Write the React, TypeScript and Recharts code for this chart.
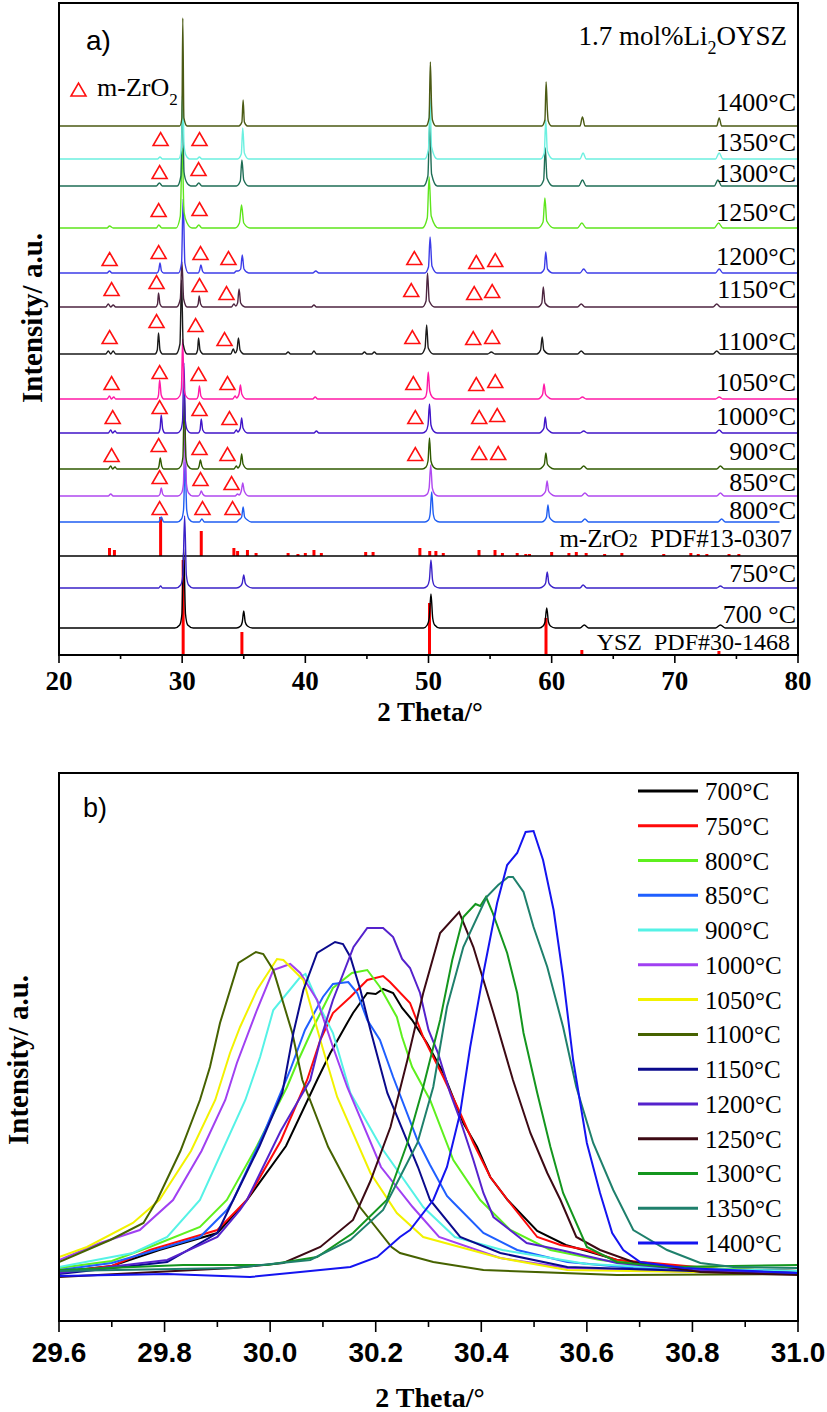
import React from 'react';
import { ComposedChart, Line, XAxis, YAxis, ReferenceLine, Scatter } from 'recharts';

type P = [number, number];

// ---------------- Panel a: XRD patterns (2θ, intensity above own baseline) ----------------
const xrdNames = ['700', '750', '800', '850', '900', '1000', '1050', '1100', '1150', '1200', '1250', '1300', '1350', '1400'];
const xrdLabels = ['700 °C', '750°C', '800°C', '850°C', '900°C', '1000°C', '1050°C', '1100°C', '1150°C', '1200°C', '1250°C', '1300°C', '1350°C', '1400°C'];
const xrdOffsets = [27, 67, 133, 159, 186, 222, 256, 301, 348, 382, 427, 469, 496, 529];
const xrdColors = ['#000000', '#3a22c8', '#1f5ef2', '#b048f0', '#2f5a00', '#4015c8', '#ff1aa6', '#1a1a1a', '#4d2540', '#3c3ce8', '#5ee51c', '#1f6e56', '#6cf0e0', '#4b5a14'];

const a700: P[] = [[20,0],[29.4,0],[29.8,3],[29.98,14],[30.12,79],[30.27,14],[30.45,3],[30.9,0],[34.4,0],[34.75,2],[34.88,6],[35.0,17],[35.12,6],[35.3,2],[35.7,0],[49.6,0],[49.9,3],[50.06,10],[50.2,34],[50.34,10],[50.5,3],[50.9,0],[59.0,0],[59.3,2],[59.46,6],[59.6,20],[59.74,6],[59.9,2],[60.3,0],[62.3,0],[62.65,3],[63.0,0],[73.3,0],[73.7,3],[74.1,0],[80,0]];
const a750: P[] = [[20,0],[28.1,0],[28.25,2],[28.4,0],[29.5,0],[29.88,3],[30.06,13],[30.2,72],[30.34,13],[30.52,3],[30.9,0],[34.4,0],[34.75,2],[34.88,5],[35.0,13],[35.12,5],[35.3,2],[35.7,0],[49.6,0],[49.9,2],[50.07,8],[50.2,28],[50.33,8],[50.5,2],[50.9,0],[59.0,0],[59.35,2],[59.51,5],[59.64,16],[59.77,5],[59.95,2],[60.3,0],[62.3,0],[62.55,3],[62.85,0],[73.4,0],[73.7,2],[74.0,0],[80,0]];
const a800: P[] = [[20,0],[28.1,0],[28.3,5],[28.5,0],[29.6,0],[29.95,3],[30.11,12],[30.24,60],[30.37,12],[30.55,3],[30.9,0],[31.4,0],[31.6,3],[31.8,0],[34.4,0],[34.6,2],[34.83,5],[34.95,15],[35.07,5],[35.3,2],[35.6,0],[49.7,0],[50.0,2],[50.13,8],[50.26,30],[50.39,8],[50.55,2],[50.9,0],[59.2,0],[59.45,2],[59.58,5],[59.7,17],[59.82,5],[60.0,2],[60.3,0],[62.4,0],[62.7,3],[63.0,0],[73.5,0],[73.8,3],[74.1,0],[78.5,0]];
const a850: P[] = [[20,0],[24.0,0],[24.2,2],[24.4,0],[28.05,0],[28.2,2],[28.3,8],[28.42,2],[28.6,0],[29.65,0],[29.95,3],[30.1,12],[30.22,70],[30.35,12],[30.52,3],[30.85,0],[31.3,0],[31.45,2],[31.55,5],[31.67,2],[31.9,0],[34.3,0],[34.5,2],[34.62,1],[34.8,5],[34.92,13],[35.04,5],[35.4,0],[49.6,0],[49.9,2],[50.05,8],[50.18,31],[50.31,8],[50.5,2],[50.8,0],[59.1,0],[59.35,2],[59.51,5],[59.63,15],[59.75,5],[59.95,2],[60.3,0],[62.4,0],[62.7,3],[63.0,0],[73.4,0],[73.7,3],[74.0,0],[80,0]];
const a900: P[] = [[20,0],[24.0,0],[24.2,3],[24.35,0],[24.55,2],[24.7,0],[28.0,0],[28.12,3],[28.22,11],[28.34,3],[28.5,0],[29.6,0],[29.9,3],[30.06,12],[30.18,75],[30.3,12],[30.48,3],[30.8,0],[31.25,0],[31.38,3],[31.48,9],[31.6,3],[31.8,0],[34.2,0],[34.4,3],[34.52,1],[34.72,5],[34.83,15],[34.94,5],[35.3,0],[49.5,0],[49.8,2],[49.96,8],[50.08,31],[50.2,8],[50.4,2],[50.7,0],[59.0,0],[59.25,2],[59.41,5],[59.53,16],[59.65,5],[59.85,2],[60.2,0],[62.3,0],[62.6,3],[62.9,0],[73.4,0],[73.7,3],[74.0,0],[80,0]];
const a1000: P[] = [[20,0],[24.0,0],[24.2,3],[24.35,0],[24.55,2],[24.7,0],[28.05,0],[28.2,4],[28.3,18],[28.42,4],[28.6,0],[29.6,0],[29.88,3],[30.03,12],[30.14,70],[30.26,12],[30.42,3],[30.7,0],[31.3,0],[31.45,3],[31.55,14],[31.67,3],[31.9,0],[34.2,0],[34.4,3],[34.52,1],[34.72,5],[34.83,15],[34.94,5],[35.3,0],[40.7,0],[40.9,2],[41.1,0],[49.5,0],[49.8,2],[49.96,8],[50.08,29],[50.2,8],[50.4,2],[50.7,0],[59.0,0],[59.22,2],[59.37,5],[59.48,16],[59.6,5],[59.8,2],[60.1,0],[62.3,0],[62.6,2],[62.9,0],[73.3,0],[73.6,3],[73.9,0],[80,0]];
const a1050: P[] = [[20,0],[23.9,0],[24.1,3],[24.25,0],[24.45,2],[24.6,0],[27.95,0],[28.08,4],[28.17,19],[28.3,4],[28.5,0],[29.5,0],[29.8,3],[29.94,11],[30.04,60],[30.15,11],[30.3,3],[30.6,0],[31.15,0],[31.3,3],[31.4,13],[31.52,3],[31.75,0],[34.1,0],[34.3,3],[34.42,1],[34.62,5],[34.73,14],[34.84,5],[35.2,0],[40.6,0],[40.8,2],[41.0,0],[49.5,0],[49.75,2],[49.87,8],[49.98,27],[50.1,8],[50.3,2],[50.6,0],[58.9,0],[59.13,2],[59.27,5],[59.38,15],[59.5,5],[59.7,2],[60,0],[62.2,0],[62.5,2],[62.8,0],[73.3,0],[73.6,2],[73.9,0],[80,0]];
const a1100: P[] = [[20,0],[23.8,0],[24.0,3],[24.2,0],[24.4,3],[24.6,0],[27.8,0],[27.98,4],[28.08,21],[28.2,4],[28.4,0],[29.5,0],[29.82,10],[29.95,74],[30.08,10],[30.4,0],[31.1,0],[31.25,4],[31.33,16],[31.45,4],[31.7,0],[33.95,0],[34.15,5],[34.3,1],[34.45,4],[34.57,16],[34.7,4],[35.0,0],[38.4,0],[38.6,2],[38.8,0],[40.5,0],[40.7,3],[40.9,0],[44.6,0],[44.8,2],[45.0,0],[45.4,0],[45.6,2],[45.8,0],[49.4,0],[49.72,6],[49.85,29],[49.98,6],[50.4,0],[54.8,0],[55.1,2],[55.4,0],[58.8,0],[59.1,4],[59.23,17],[59.36,4],[59.8,0],[62.1,0],[62.4,3],[62.7,0],[73.1,0],[73.4,3],[73.7,0],[80,0]];
const a1150: P[] = [[20,0],[23.8,0],[24.0,3],[24.2,0],[24.4,2],[24.6,0],[27.85,0],[28.0,3],[28.08,14],[28.2,3],[28.4,0],[29.55,0],[29.85,8],[29.98,45],[30.12,8],[30.4,0],[31.15,0],[31.3,3],[31.38,11],[31.5,3],[31.7,0],[34.0,0],[34.2,3],[34.35,1],[34.5,4],[34.62,18],[34.75,4],[35.1,0],[40.5,0],[40.7,2],[40.9,0],[49.5,0],[49.8,6],[49.92,34],[50.06,6],[50.5,0],[58.9,0],[59.2,4],[59.32,20],[59.46,4],[59.9,0],[62.1,0],[62.4,3],[62.7,0],[73.1,0],[73.4,3],[73.7,0],[80,0]];
const a1200: P[] = [[20,0],[23.9,0],[24.1,2],[24.3,0],[27.95,0],[28.1,3],[28.2,10],[28.32,2],[28.5,0],[29.7,0],[29.95,10],[30.08,74],[30.22,10],[30.5,0],[31.3,0],[31.42,3],[31.52,8],[31.65,2],[31.8,0],[34.2,0],[34.4,2],[34.55,2],[34.75,4],[34.88,18],[35.02,4],[35.4,0],[40.6,0],[40.85,2],[41.1,0],[49.7,0],[50.0,6],[50.13,36],[50.28,7],[50.7,0],[59.1,0],[59.4,4],[59.52,21],[59.66,4],[60.1,0],[62.3,0],[62.6,4],[62.9,0],[73.3,0],[73.6,4],[73.9,0],[80,0]];
const a1250: P[] = [[20,0],[23.9,0],[24.1,2],[24.4,0],[27.9,0],[28.1,3],[28.35,0],[29.5,0],[29.85,12],[30.0,80],[30.15,16],[30.4,5],[30.8,0],[31.1,0],[31.35,3],[31.6,0],[34.3,0],[34.65,5],[34.82,23],[35.0,5],[35.5,0],[49.5,0],[49.9,10],[50.05,51],[50.22,12],[50.8,0],[58.9,0],[59.3,6],[59.45,30],[59.6,7],[60.2,0],[62.1,0],[62.45,5],[62.8,0],[73.2,0],[73.55,5],[73.9,0],[80,0]];
const a1300: P[] = [[20,0],[27.9,0],[28.15,3],[28.4,0],[29.6,0],[29.9,10],[30.02,90],[30.15,14],[30.35,4],[30.7,0],[31.1,0],[31.35,3],[31.6,0],[34.4,0],[34.72,5],[34.85,26],[35.0,6],[35.4,0],[49.6,0],[49.95,10],[50.1,63],[50.25,12],[50.7,0],[59.0,0],[59.35,6],[59.48,38],[59.62,8],[60.1,0],[62.2,0],[62.5,6],[62.8,0],[73.2,0],[73.5,6],[73.8,0],[80,0]];
const a1350: P[] = [[20,0],[28.0,0],[28.2,2],[28.4,0],[29.7,0],[29.95,10],[30.05,75],[30.15,14],[30.3,4],[30.6,0],[31.2,0],[31.4,2],[31.6,0],[34.5,0],[34.8,5],[34.92,31],[35.05,6],[35.4,0],[49.7,0],[50.0,10],[50.12,62],[50.25,12],[50.7,0],[59.1,0],[59.4,6],[59.52,39],[59.65,8],[60.1,0],[62.3,0],[62.55,6],[62.8,0],[73.3,0],[73.6,6],[73.9,0],[80,0]];
const a1400: P[] = [[20,0],[29.8,0],[29.98,8],[30.05,108],[30.14,8],[30.4,0],[34.6,0],[34.85,4],[34.95,26],[35.05,4],[35.3,0],[49.8,0],[50.05,8],[50.15,64],[50.25,20],[50.32,6],[50.6,0],[59.2,0],[59.45,6],[59.55,44],[59.65,16],[59.72,5],[60,0],[62.3,0],[62.5,9],[62.7,0],[73.4,0],[73.6,8],[73.8,0],[80,0]];
const xrdPatterns = [a700, a750, a800, a850, a900, a1000, a1050, a1100, a1150, a1200, a1250, a1300, a1350, a1400];

// reference patterns (2θ, stick height)
const yszSticks: P[] = [[30.08,95],[34.85,23],[50.08,52],[59.54,37],[62.45,5],[73.58,4]];
const mZrO2Base = 99;
const mZrO2Sticks: P[] = [[24.1,8],[24.5,6],[28.25,39],[31.55,25],[34.2,8],[34.5,5],[35.3,6],[36.0,3],[38.6,3],[39.4,2],[40.0,3],[40.7,6],[41.3,3],[44.9,4],[45.5,4],[49.3,8],[50.1,5],[50.6,5],[51.2,3],[54.1,6],[55.4,6],[56.0,3],[57.2,3],[57.9,2],[58.2,2],[60.0,4],[61.4,3],[62.0,4],[62.8,3],[64.3,2],[65.7,3],[69.1,2],[71.3,3],[71.9,2],[72.6,2],[74.4,2],[75.2,2]];

// m-ZrO2 markers (2θ, level)
const triangles: P[] = [
  [28.25,516],[31.41,516],
  [28.17,483],[31.33,486],
  [28.09,445],[31.41,446],
  [24.11,396],[28.09,403],[31.49,402],[33.76,397],[48.85,397],[53.88,393],[55.42,395],
  [24.27,366],[27.92,373],[31.41,370],[33.6,362],[48.6,365],[53.71,362],[55.17,364],
  [24.11,318],[27.92,334],[31.09,330],[33.44,316],[48.69,318],[53.63,317],[55.17,318],
  [24.27,272],[28.17,283],[31.33,281],[33.68,272],[48.77,272],[53.88,271],[55.42,274],
  [24.36,238],[28.17,248],[31.41,246],[33.84,237],[48.93,238],[54.12,238],[55.58,240],
  [24.27,200],[28.09,210],[31.41,207],[33.68,201],[48.93,201],[54.12,202],[55.66,202],
  [28.17,178],[31.49,176],[34.01,172],
  [28.17,147],[31.65,147],[34.09,147],
];
const ticksA = [20, 25, 30, 35, 40, 45, 50, 55, 60, 65, 70, 75, 80];

// ---------------- Panel b: (111) peak region ----------------
const bNames = ['700°C', '750°C', '800°C', '850°C', '900°C', '1000°C', '1050°C', '1100°C', '1150°C', '1200°C', '1250°C', '1300°C', '1350°C', '1400°C'];
const bColors = ['#000000', '#ff0a0a', '#5ef01e', '#1f5fff', '#55f2e6', '#a040f2', '#f2f200', '#466200', '#0a0a8c', '#5522cc', '#3d0a14', '#14961e', '#1f806c', '#1414f0'];
const b700: P[] = [[29.6,49],[29.7,55],[29.79,71],[29.9,88],[29.956,121],[30.03,175],[30.089,241],[30.114,268],[30.146,298],[30.157,308],[30.184,328],[30.2,327],[30.214,332],[30.233,328],[30.25,313],[30.269,301],[30.297,278],[30.328,248],[30.366,198],[30.392,174],[30.417,144],[30.45,121],[30.506,90],[30.56,76],[30.6,70],[30.657,61],[30.75,55],[30.85,52],[31.0,50]];
const b750: P[] = [[29.6,49],[29.7,55],[29.772,71],[29.9,91],[29.956,121],[30.02,180],[30.07,241],[30.095,281],[30.119,308],[30.152,324],[30.184,341],[30.214,345],[30.227,339],[30.265,318],[30.29,284],[30.328,244],[30.36,208],[30.385,178],[30.417,144],[30.45,121],[30.506,84],[30.55,76],[30.6,71],[30.657,61],[30.726,58],[30.85,52],[31.0,50]];
const b800: P[] = [[29.6,53],[29.7,60],[29.772,74],[29.867,94],[29.918,121],[29.975,175],[30.032,234],[30.051,258],[30.082,294],[30.119,333],[30.155,348],[30.184,351],[30.208,334],[30.24,304],[30.25,284],[30.269,254],[30.303,221],[30.347,161],[30.398,121],[30.455,91],[30.531,71],[30.625,61],[30.752,54],[31.0,50]];
const b850: P[] = [[29.6,51],[29.7,58],[29.867,84],[29.918,111],[29.93,121],[29.99,190],[30.038,251],[30.066,291],[30.1,324],[30.119,337],[30.148,339],[30.165,328],[30.184,301],[30.208,281],[30.233,244],[30.279,181],[30.303,156],[30.335,125],[30.348,118],[30.404,88],[30.468,71],[30.563,59],[30.688,53],[31.0,50]];
const b900: P[] = [[29.6,54],[29.74,68],[29.805,84],[29.867,121],[29.953,221],[29.981,264],[30.006,311],[30.057,344],[30.067,347],[30.095,313],[30.119,288],[30.152,228],[30.21,174],[30.29,114],[30.35,84],[30.44,71],[30.6,57],[30.8,52],[31.0,50]];
const b1000: P[] = [[29.6,61],[29.678,78],[29.753,91],[29.816,121],[29.87,170],[29.915,221],[29.937,258],[29.975,311],[30.006,351],[30.038,357],[30.057,348],[30.089,321],[30.119,274],[30.146,234],[30.21,154],[30.27,114],[30.32,84],[30.436,63],[30.563,53],[30.8,49],[31.0,48]];
const b1050: P[] = [[29.6,64],[29.653,74],[29.74,98],[29.79,121],[29.85,170],[29.896,221],[29.924,268],[29.943,294],[29.975,331],[30.013,362],[30.025,361],[30.044,351],[30.063,341],[30.095,281],[30.127,224],[30.19,148],[30.24,108],[30.29,84],[30.436,63],[30.563,51],[30.8,49],[31.0,48]];
const b1100: P[] = [[29.6,59],[29.697,81],[29.76,98],[29.786,121],[29.83,170],[29.867,221],[29.886,254],[29.905,298],[29.94,358],[29.973,369],[29.987,367],[30.006,351],[30.042,288],[30.061,241],[30.11,174],[30.17,114],[30.23,74],[30.246,68],[30.309,59],[30.404,51],[30.657,46],[31.0,47]];
const b1150: P[] = [[29.6,47],[29.805,59],[29.9,88],[29.93,121],[29.98,175],[30.023,228],[30.044,288],[30.063,331],[30.089,368],[30.123,379],[30.138,377],[30.152,364],[30.171,331],[30.19,291],[30.222,228],[30.28,154],[30.303,121],[30.36,84],[30.436,68],[30.563,54],[30.8,50],[31.0,48]];
const b1200: P[] = [[29.6,48],[29.805,61],[29.9,84],[29.943,111],[29.956,121],[30.02,190],[30.076,241],[30.095,281],[30.119,321],[30.158,374],[30.184,393],[30.214,393],[30.233,384],[30.25,362],[30.265,353],[30.284,328],[30.3,291],[30.318,268],[30.341,228],[30.36,201],[30.385,161],[30.404,128],[30.423,104],[30.486,78],[30.55,71],[30.657,58],[30.8,51],[31.0,48]];
const b1250: P[] = [[29.6,44],[29.93,53],[30.025,58],[30.095,74],[30.157,101],[30.19,140],[30.228,194],[30.26,261],[30.29,328],[30.322,388],[30.358,409],[30.385,374],[30.423,308],[30.46,241],[30.493,188],[30.525,148],[30.55,121],[30.58,84],[30.625,71],[30.688,59],[30.815,49],[31.0,46]];
const b1300: P[] = [[29.6,51],[29.835,56],[29.994,56],[30.089,64],[30.157,88],[30.221,121],[30.26,178],[30.29,234],[30.322,301],[30.345,361],[30.366,404],[30.389,417],[30.398,415],[30.409,424],[30.421,409],[30.449,368],[30.468,328],[30.48,288],[30.506,228],[30.531,174],[30.555,128],[30.6,74],[30.657,59],[30.752,54],[31.0,56]];
const b1350: P[] = [[29.6,50],[29.93,53],[30.076,61],[30.152,81],[30.214,111],[30.246,144],[30.279,178],[30.309,234],[30.335,314],[30.366,374],[30.41,424],[30.432,436],[30.451,444],[30.46,444],[30.48,429],[30.499,394],[30.525,354],[30.555,294],[30.58,234],[30.612,178],[30.65,131],[30.688,91],[30.752,71],[30.815,58],[30.877,54],[31.0,53]];
const b1400: P[] = [[29.6,45],[29.805,47],[29.962,44],[30.057,49],[30.152,54],[30.203,64],[30.246,84],[30.265,91],[30.309,121],[30.335,154],[30.36,208],[30.379,274],[30.404,348],[30.43,418],[30.449,456],[30.468,468],[30.484,489],[30.499,490],[30.517,461],[30.537,411],[30.555,344],[30.574,261],[30.6,178],[30.625,128],[30.648,88],[30.669,71],[30.701,59],[30.783,53],[31.0,48]];
const bPatterns = [b700, b750, b800, b850, b900, b1000, b1050, b1100, b1150, b1200, b1250, b1300, b1350, b1400];
const ticksB = [29.6, 29.7, 29.8, 29.9, 30.0, 30.1, 30.2, 30.3, 30.4, 30.5, 30.6, 30.7, 30.8, 30.9, 31.0];

// ---------------- rendering ----------------
const serif = "'Liberation Serif','Times New Roman',Times,serif";
const sans = "'Liberation Sans',Arial,Helvetica,sans-serif";

const TickA = (props: any) => {
  const { x, y, payload } = props;
  const v = payload.value;
  const major = Math.round(v) % 10 === 0;
  return (
    <g>
      <line x1={x} x2={x} y1={y} y2={y + (major ? 8 : 4)} stroke="#000" strokeWidth={1.6} />
      {major && (
        <text x={x} y={y + 35} textAnchor="middle" fontFamily={serif} fontWeight="bold" fontSize={27} fill="#000">{v}</text>
      )}
    </g>
  );
};

const TickB = (props: any) => {
  const { x, y, payload } = props;
  const v = payload.value;
  const major = Math.round(v * 10) % 2 === 0;
  return (
    <g>
      <line x1={x} x2={x} y1={y} y2={y + (major ? 11 : 6)} stroke="#000" strokeWidth={1.6} />
      {major && (
        <text x={x} y={y + 41} textAnchor="middle" fontFamily={sans} fontWeight="bold" fontSize={28} fill="#000">{v.toFixed(1)}</text>
      )}
    </g>
  );
};

const TriShape = (p: any) => {
  const { cx, cy } = p;
  return <polygon points={`${cx - 7.5},${cy + 6.5} ${cx + 7.5},${cy + 6.5} ${cx},${cy - 6.5}`} fill="none" stroke="#ff1010" strokeWidth={1.6} />;
};

const tempLabelY = [623, 582, 519, 491, 460, 425, 391, 350, 298, 265, 221, 182, 151, 111];

export default function App() {
  const seriesA = xrdPatterns.map((pts, i) => ({
    name: xrdNames[i],
    color: xrdColors[i],
    data: pts.map(([x, y]) => ({ x, v: y + xrdOffsets[i] })),
  }));
  const triData = triangles.map(([x, v]) => ({ x, v }));
  const seriesB = bPatterns.map((pts, i) => ({
    name: bNames[i],
    color: bColors[i],
    data: pts.map(([x, v]) => ({ x, v })),
  }));

  return (
    <div style={{ position: 'absolute', left: 0, top: 0, width: 827, height: 1412, background: '#fff', overflow: 'hidden' }}>
      <div style={{ position: 'absolute', left: 0, top: 0 }}>
        <ComposedChart width={827} height={700} margin={{ top: 3, right: 29, bottom: 15, left: 59 }}>
          <XAxis dataKey="x" type="number" domain={[20, 80]} ticks={ticksA} interval={0} allowDataOverflow
            tick={<TickA />} tickLine={false} axisLine={false} tickSize={0} tickMargin={0} height={30} />
          <YAxis dataKey="v" type="number" domain={[0, 652]} hide allowDataOverflow />
          {yszSticks.map(([x, h], i) => (
            <ReferenceLine key={'ys' + i} segment={[{ x, y: 0 }, { x, y: h }]} stroke="#ff0000" strokeWidth={3} />
          ))}
          {mZrO2Sticks.map(([x, h], i) => (
            <ReferenceLine key={'ms' + i} segment={[{ x, y: mZrO2Base }, { x, y: mZrO2Base + h }]} stroke="#ff0000" strokeWidth={3} />
          ))}
          <ReferenceLine y={mZrO2Base} stroke="#000" strokeWidth={1.6} />
          {seriesA.map((s) => (
            <Line key={s.name} data={s.data} dataKey="v" name={s.name} stroke={s.color} strokeWidth={1.4}
              dot={false} activeDot={false} type="monotone" isAnimationActive={false} />
          ))}
          <Scatter data={triData} dataKey="v" shape={TriShape} isAnimationActive={false} />
        </ComposedChart>
      </div>

      <div style={{ position: 'absolute', left: 0, top: 740 }}>
        <ComposedChart width={827} height={672} margin={{ top: 33, right: 29, bottom: 61, left: 59 }}>
          <XAxis dataKey="x" type="number" domain={[29.6, 31.0]} ticks={ticksB} interval={0} allowDataOverflow
            tick={<TickB />} tickLine={false} axisLine={false} tickSize={0} tickMargin={0} height={30} />
          <YAxis dataKey="v" type="number" domain={[0, 548]} hide allowDataOverflow />
          {seriesB.map((s) => (
            <Line key={s.name} data={s.data} dataKey="v" name={s.name} stroke={s.color} strokeWidth={2}
              dot={false} activeDot={false} type="linear" isAnimationActive={false} />
          ))}
        </ComposedChart>
      </div>

      <svg width={827} height={1412} style={{ position: 'absolute', left: 0, top: 0, pointerEvents: 'none' }}>
        {/* Panel a */}
        <rect x={59} y={3} width={739} height={652} fill="none" stroke="#000" strokeWidth={2} />
        <text x={86} y={50} fontFamily={sans} fontSize={28} fill="#000">a)</text>
        <text x={787} y={45} textAnchor="end" fontFamily={serif} fontSize={27} fill="#000">
          1.7 mol%Li<tspan dy={9} fontSize={18}>2</tspan><tspan dy={-9}>OYSZ</tspan>
        </text>
        <polygon points="71,96 86,96 78.5,83" fill="none" stroke="#ff1010" strokeWidth={1.6} />
        <text x={97} y={96} fontFamily={serif} fontSize={26} fill="#000">
          m-ZrO<tspan dy={9} fontSize={17}>2</tspan>
        </text>
        {xrdLabels.map((t, i) => (
          <text key={t} x={796} y={tempLabelY[i]} textAnchor="end" fontFamily={serif} fontSize={26} fill="#000" style={{ whiteSpace: 'pre' }}>{t}</text>
        ))}
        <text x={792} y={547} textAnchor="end" fontFamily={serif} fontSize={25} fill="#000" style={{ whiteSpace: 'pre' }}>
          m-ZrO<tspan fontSize={18}>2</tspan>{'  PDF#13-0307'}
        </text>
        <text x={790} y={650} textAnchor="end" fontFamily={serif} fontSize={24} fill="#000" style={{ whiteSpace: 'pre' }}>{'YSZ  PDF#30-1468'}</text>
        <text x={430} y={721} textAnchor="middle" fontFamily={serif} fontWeight="bold" fontSize={27} fill="#000">2 Theta/°</text>
        <text x={42} y={318} transform="rotate(-90 42 318)" textAnchor="middle" fontFamily={serif} fontWeight="bold" fontSize={29} fill="#000">Intensity/ a.u.</text>

        {/* Panel b */}
        <rect x={59} y={773} width={739} height={548} fill="none" stroke="#000" strokeWidth={2} />
        <text x={83} y={817} fontFamily={sans} fontSize={27} fill="#000">b)</text>
        {seriesB.map((s, i) => {
          const yy = 791 + i * 34.77;
          return (
            <g key={'lg' + i}>
              <line x1={638} x2={698} y1={yy} y2={yy} stroke={s.color} strokeWidth={3} />
              <text x={705} y={yy + 9} fontFamily={serif} fontSize={25} fill="#000">{s.name}</text>
            </g>
          );
        })}
        <text x={430} y={1407} textAnchor="middle" fontFamily={serif} fontWeight="bold" fontSize={28} fill="#000">2 Theta/°</text>
        <text x={28} y={1060} transform="rotate(-90 28 1060)" textAnchor="middle" fontFamily={serif} fontWeight="bold" fontSize={29} fill="#000">Intensity/ a.u.</text>
      </svg>
    </div>
  );
}
